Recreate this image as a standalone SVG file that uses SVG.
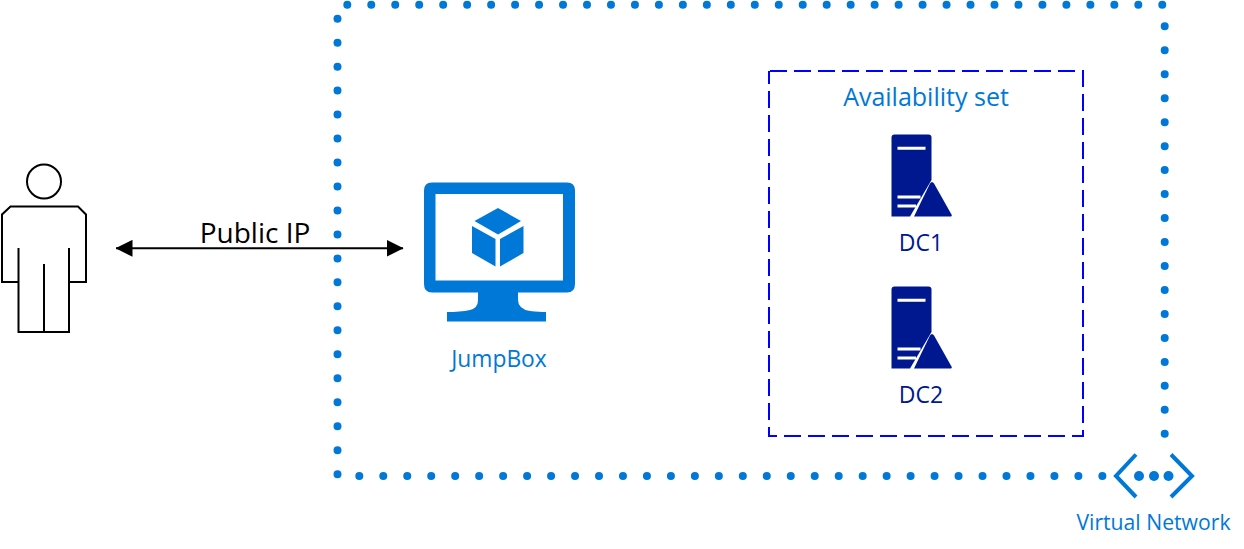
<svg xmlns="http://www.w3.org/2000/svg" width="1244" height="549" viewBox="0 0 1244 549">
<style>
.dots{fill:none;stroke:#0078d7;stroke-width:8;stroke-linecap:round;stroke-dasharray:0 23.97}
.txt{font-family:"Open Sans","Noto Sans",sans-serif}
.blue{fill:#0078d7}
.navy{fill:#00188f}
.out{fill:none;stroke:#000;stroke-width:2}
</style>
<defs>
<marker id="arr" viewBox="0 0 17 17" refX="16.5" refY="8.5" markerWidth="17" markerHeight="17" markerUnits="userSpaceOnUse" orient="auto-start-reverse"><path d="M0 0L17 8.500L0 17Z" fill="#000"/></marker>
<g id="srv">
<path class="navy" d="M0 3Q0 0 3 0H37Q40 0 40 3V45.500L18.500 82H0Z"/>
<path class="navy" d="M22.500 82L38.500 49Q40.500 46 42.500 49L60 80Q61 82 58.500 82Z"/>
<path d="M6 13.800H34M6 62.500H29M6 71.500H24.500" stroke="#fff" stroke-width="3" fill="none"/>
</g>
</defs>
<g id="connectors">
<path class="dots" d="M347.300 4.700H1164"/>
<path class="dots" d="M337.500 18.700V475"/>
<path class="dots" d="M1164.700 26.300V435"/>
<path class="dots" d="M359.300 476H1103"/>
<path d="M116 248.300H403" stroke="#000" stroke-width="2" fill="none" marker-start="url(#arr)" marker-end="url(#arr)"/>
<text class="txt" x="255" y="243" font-size="28" text-anchor="middle" fill="#000">Public IP</text>
</g>
<g id="user">
<circle class="out" cx="44" cy="181.500" r="17"/>
<path class="out" d="M18.500 282H2V214.500L10.500 206.500H78L86 214.500V282H69M18.500 248V332H69V248M44 264V332"/>
</g>
<g id="jumpbox">
<path class="blue" fill-rule="evenodd" d="M432 182.500H567Q575 182.500 575 190.500V284Q575 292.500 567 292.500H518V300Q518 309 530 311Q540 312 546 312V321.500H447V312Q460 312 470 310Q478 308 478 300V292.500H432Q424 292.500 424 284V190.500Q424 182.500 432 182.500ZM435.500 194V280.500H563V194Z"/>
<path class="blue" d="M498 208L521 221L498 234.500L474.500 221ZM472 226L495.500 239V266.500L472 253ZM523.500 226V253L500 266.500V239Z"/>
<text class="txt blue" x="499" y="367" font-size="22.800" text-anchor="middle">JumpBox</text>
</g>
<g id="availability-set">
<rect x="769" y="71" width="314" height="365" fill="none" stroke="#00f" stroke-width="2" stroke-dasharray="17 7" stroke-dashoffset="-1"/>
<text class="txt blue" x="926" y="106" font-size="25" text-anchor="middle">Availability set</text>
</g>
<g id="dc1">
<use href="#srv" x="891.500" y="134.500"/>
<text class="txt navy" x="921" y="250.500" font-size="23" text-anchor="middle">DC1</text>
</g>
<g id="dc2">
<use href="#srv" x="891.500" y="286.500"/>
<text class="txt navy" x="921" y="402.500" font-size="23" text-anchor="middle">DC2</text>
</g>
<g id="vnet">
<path d="M1136 454.500L1116 476L1136 497M1171 454.500L1192 476L1171 497" fill="none" stroke="#0078d7" stroke-width="4"/>
<circle class="blue" cx="1139" cy="476" r="5"/>
<circle class="blue" cx="1154" cy="476" r="5"/>
<circle class="blue" cx="1168.500" cy="476" r="5"/>
<text class="txt blue" x="1153.500" y="530" font-size="21.200" text-anchor="middle">Virtual Network</text>
</g>
</svg>
